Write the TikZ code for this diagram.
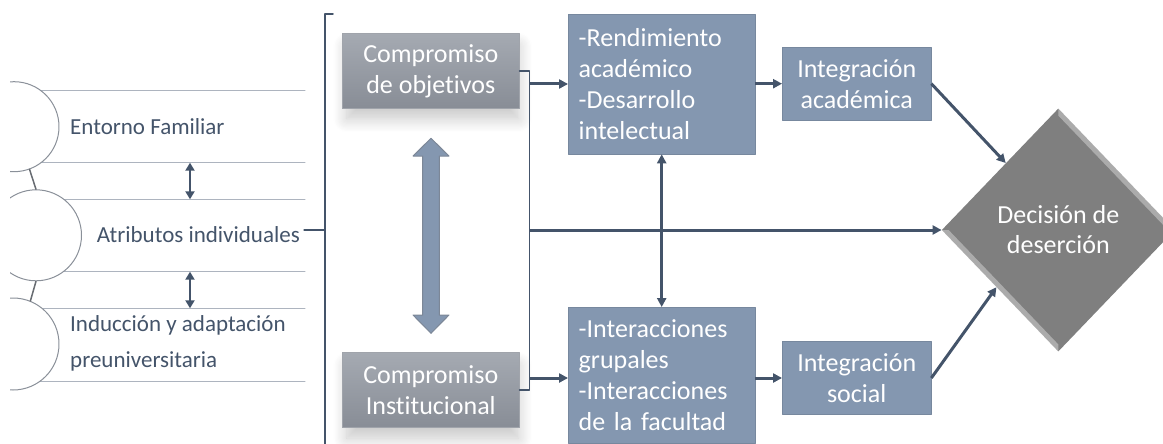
\documentclass[tikz,border=0pt]{standalone}
\usepackage{fontspec}
\setmainfont{Carlito}[Ligatures=NoCommon]
\usetikzlibrary{arrows.meta,shapes.geometric,shadows.blur,calc}
\definecolor{darkline}{HTML}{44546A}
\definecolor{boxblue}{HTML}{8497B0}
\definecolor{graytop}{HTML}{A5AAB2}
\definecolor{graybot}{HTML}{888D96}
\definecolor{thingray}{HTML}{ADB4BF}
\definecolor{decgray}{HTML}{7F7F7F}
\begin{document}
\begin{tikzpicture}[x=1pt, y=-1pt, line cap=round, line join=round, >={Triangle[length=9pt,width=9pt]}]
	\tikzset{box style/.style={rectangle, fill=boxblue, draw=boxblue!90!black, line width=0.6pt, text=white, font=\fontsize{26}{31}\selectfont, inner sep=0pt},
		gray style/.style={rectangle, top color=graytop, bottom color=graybot, draw=graybot!80!white, text=white, align=center, font=\fontsize{26}{31}\selectfont, minimum width=177pt, minimum height=75pt, inner sep=0pt, blur shadow={shadow xshift=2pt, shadow yshift=-12pt, shadow scale=0.97, shadow blur radius=14pt, shadow blur steps=12, shadow opacity=22}},
		left text/.style={anchor=west, inner sep=0pt, text=darkline, font=\fontsize{23}{36.7}\selectfont, align=left},
		thin line/.style={thingray, line width=1pt},
		dark line/.style={darkline, line width=3pt, line cap=butt}}
	\useasboundingbox (0,0) rectangle (1163,444);
	\begin{scope}
		\clip (10,0) rectangle (330,444);
		\foreach \y in {90.7,162.7,199.3,271.7,308.3,381} \draw[thin line] (10,\y)--(305,\y);
		\node[circle, draw=thingray!80!black, fill=white, line width=1pt, minimum size=90pt, inner sep=0pt] (c1) at (14,126.7) {};
		\node[circle, draw=thingray!80!black, fill=white, line width=1pt, minimum size=91pt, inner sep=0pt] (c2) at (36,235.3) {};
		\node[circle, draw=thingray!80!black, fill=white, line width=1pt, minimum size=92pt, inner sep=0pt] (c3) at (13,344) {};
	\end{scope}
	\draw[thingray!60!black, line width=1.5pt] (c1.-70)--(c2.north) (c2.south)--(c3.68);
	\node[left text] (ent) at (70,126.7) {Entorno Familiar};
	\node[left text] (attr) at (96.7,235) {Atributos individuales};
	\node[left text] (ind) at (70,343.3) {Inducción y adaptación\\preuniversitaria};
	\path (190,162.7) coordinate (a1) (190,199.3) coordinate (a2)
	(190,271.7) coordinate (a3) (190,308.3) coordinate (a4)
	(325,230) coordinate (br);
	\draw[dark line, line width=2.5pt, <->, >={Triangle[length=8pt,width=9pt]}] (a1)--(a2);
	\draw[dark line, line width=2.5pt, <->, >={Triangle[length=8pt,width=9pt]}] (a3)--(a4);
	\draw[darkline, line width=1.5pt] (333,14)--(325,14)--(325,450);
	\draw[darkline, line width=1.5pt] (attr.east |- br) ++(4,0) -- (br);
	\node[gray style] (obj) at (430.8,70.8) {Compromiso\\de objetivos};
	\node[gray style] (inst) at (430.8,390) {Compromiso\\Institucional};
	\filldraw[fill=boxblue, draw=darkline!70, line width=1pt] (422.7,156)--(413,156)--(431,138.3)--(449,156)--(439.3,156)--(439.3,315)--(449,315)--(431,333.3)--(413,315)--(422.7,315)--cycle;
	\node[box style, minimum width=186.7pt, minimum height=140pt, text width=166pt, align=left] (rend) at (661.7,84) {-Rendimiento\\académico\\-Desarrollo\\intelectual};
	\node[box style, minimum width=186.7pt, minimum height=135.7pt, text width=166pt, align=left] (inter) at (661.7,375.2) {-Interacciones\\grupales\\-Interacciones\\de la facultad};
	\node[box style, minimum width=148.7pt, minimum height=72.7pt, align=center] (inta) at (856.7,83.7) {Integración\\académica};
	\node[box style, minimum width=148.7pt, minimum height=72.7pt, align=center] (ints) at (856.7,378) {Integración\\social};
	\node[diamond, aspect=1, fill=decgray, minimum width=233pt, minimum height=243pt, inner sep=0pt, text=white, align=center, font=\fontsize{26}{30}\selectfont] (dec) at (1058.3,230) {Decisión de\\deserción};
	\fill[white, opacity=0.35] (dec.north)--(dec.east)--($(dec.east)!0.06!(dec.center)$)--($(dec.north)!0.06!(dec.center)$)--cycle;
	\fill[white, opacity=0.35] (dec.south)--(dec.west)--($(dec.west)!0.06!(dec.center)$)--($(dec.south)!0.06!(dec.center)$)--cycle;
	\draw[darkline, line width=1.5pt] (obj.east)--(529.3,70.8) coordinate (jt)--(jt |- inst.east)--(inst.east);
	\draw[dark line, ->] (jt |- rend.west)--(rend.west);
	\draw[dark line, ->] (jt |- ints.west)--(ints.west -| inter.west);
	\draw[dark line, ->] (jt |- dec.west)--(dec.west);
	\draw[dark line, line width=2.5pt, <->] (rend.south)--(inter.north);
	\draw[dark line, ->] (rend.east |- inta.west)--(inta.west);
	\draw[dark line, ->] (inter.east |- ints.west)--(ints.west);
	\draw[dark line, ->] (inta.east)--($(dec.west)!0.55!(dec.north)$);
	\draw[dark line, ->] (ints.east)--($(dec.west)!0.47!(dec.south)$);
\end{tikzpicture}
\end{document}
